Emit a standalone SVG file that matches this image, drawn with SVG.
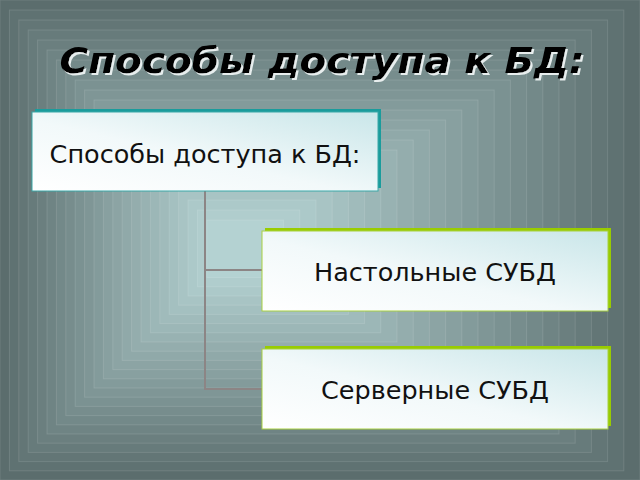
<svg xmlns="http://www.w3.org/2000/svg" width="640" height="480" viewBox="0 0 640 480">
<defs>
<linearGradient id="boxfill" x1="0" y1="1" x2="1" y2="0">
<stop offset="0" stop-color="#ffffff"/>
<stop offset="0.45" stop-color="#f2f9fa"/>
<stop offset="1" stop-color="#c9e6e9"/>
</linearGradient>
<filter id="tshadow" x="-5%" y="-20%" width="110%" height="140%">
<feOffset dx="2" dy="2" in="SourceAlpha" result="o"/>
<feFlood flood-color="#e8eeee"/>
<feComposite in2="o" operator="in" result="s"/>
<feMerge><feMergeNode in="s"/><feMergeNode in="SourceGraphic"/></feMerge>
</filter>
</defs>
<style>
.bg rect{stroke:#ffffff;stroke-opacity:0.12;stroke-width:1}
.box{fill:url(#boxfill)}
.lbl{font-family:"DejaVu Sans",sans-serif;font-size:25.5px;fill:#111111;text-anchor:middle}
.conn{fill:none;stroke:#8c8585;stroke-width:2}
</style>
<g class="bg">
<rect x="0" y="0" width="640" height="480" fill="#5b6d6d"/>
<rect x="9.4" y="10" width="614.4" height="460.8" fill="#5f7272"/>
<rect x="18.8" y="20" width="588.8" height="441.6" fill="#637676"/>
<rect x="28.2" y="30" width="563.2" height="422.4" fill="#677b7b"/>
<rect x="37.6" y="40" width="537.6" height="403.2" fill="#6b7f7f"/>
<rect x="47" y="50" width="512" height="384" fill="#6f8484"/>
<rect x="56.4" y="60" width="486.4" height="364.8" fill="#738989"/>
<rect x="65.8" y="70" width="460.8" height="345.6" fill="#778d8d"/>
<rect x="75.2" y="80" width="435.2" height="326.4" fill="#7b9292"/>
<rect x="84.6" y="90" width="409.6" height="307.2" fill="#7f9696"/>
<rect x="94" y="100" width="384" height="288" fill="#839b9b"/>
<rect x="103.4" y="110" width="358.4" height="268.8" fill="#88a0a0"/>
<rect x="112.8" y="120" width="332.8" height="249.6" fill="#8ca4a4"/>
<rect x="122.2" y="130" width="307.2" height="230.4" fill="#90a9a9"/>
<rect x="131.6" y="140" width="281.6" height="211.2" fill="#94adad"/>
<rect x="141" y="150" width="256" height="192" fill="#98b2b2"/>
<rect x="150.4" y="160" width="230.4" height="172.8" fill="#9cb7b7"/>
<rect x="159.8" y="170" width="204.8" height="153.6" fill="#a0bbbb"/>
<rect x="169.2" y="180" width="179.2" height="134.4" fill="#a4c0c0"/>
<rect x="178.6" y="190" width="153.6" height="115.2" fill="#a8c4c4"/>
<rect x="188" y="200" width="128" height="96" fill="#acc9c9"/>
<rect x="197.4" y="210" width="102.4" height="76.8" fill="#b0cdcd"/>
<rect x="206.8" y="220" width="76.8" height="57.6" fill="#b4d2d2"/>
</g>
<text x="322" y="73" font-family="DejaVu Sans, sans-serif" font-size="36" font-weight="bold" font-style="italic" text-anchor="middle" textLength="525" lengthAdjust="spacingAndGlyphs" fill="#000000" filter="url(#tshadow)">Способы доступа к БД:</text>
<g id="connectors">
<polyline class="conn" points="205,190 205,389 262,389"/>
<line class="conn" x1="205" y1="270" x2="262" y2="270"/>
</g>
<g id="node-root">
<rect x="35" y="109" width="346" height="79" fill="#1a9c9c"/>
<rect x="32" y="112" width="346" height="79" class="box" stroke="#3aa8a8" stroke-width="1"/>
<text class="lbl" x="205" y="163">Способы доступа к БД:</text>
</g>
<g id="node-desktop">
<rect x="265" y="228" width="346" height="80" fill="#99cc00"/>
<rect x="262" y="231" width="346" height="80" class="box" stroke="#a8d040" stroke-width="1"/>
<text class="lbl" x="435" y="281">Настольные СУБД</text>
</g>
<g id="node-server">
<rect x="265" y="346" width="346" height="80" fill="#99cc00"/>
<rect x="262" y="349" width="346" height="80" class="box" stroke="#a8d040" stroke-width="1"/>
<text class="lbl" x="435" y="399">Серверные СУБД</text>
</g>
</svg>
